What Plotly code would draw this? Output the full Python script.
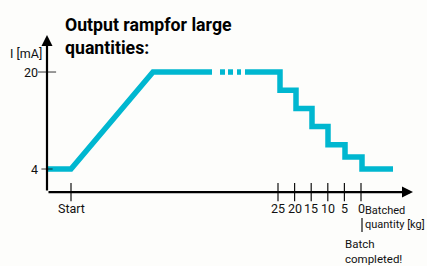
import plotly.graph_objects as go

# ---- data ----
# horizontal positions (arbitrary time-like units, origin at the y axis)
ramp_x = [0, 24, 106, 165]
ramp_y = [4, 4, 20, 20]
dash_x = [173, 178, None, 181, 186, None, 190, 194]
dash_y = [20, 20, None, 20, 20, None, 20, 20]
step_x = [198, 233, 249, 265, 281, 298, 315, 346]
step_y = [20, 17, 14, 11, 8, 6, 4, 4]

x_tick_pos = [24, 231, 247.6, 264.2, 280.8, 297.4, 314]
x_tick_text = ["Start", "25", "20", "15", "10", "5", "0"]
y_tick_vals = [20, 4]
y_tick_text = ["20", "4"]
title_lines = ["Output rampfor large", "quantities:"]
axis_y = 0.2
x_axis_end = 366
y_axis_end = 26.1

LINE_COLOR = "#00B7D0"
FONT = "Roboto, Liberation Sans, sans-serif"
FS = 12.5

fig = go.Figure()
for xs, ys in [(ramp_x, ramp_y), (dash_x, dash_y)]:
    fig.add_trace(go.Scatter(x=xs, y=ys, mode="lines",
                             line=dict(color=LINE_COLOR, width=5.5),
                             hoverinfo="skip", showlegend=False))
fig.add_trace(go.Scatter(x=step_x, y=step_y, mode="lines",
                         line=dict(color=LINE_COLOR, width=5.5, shape="hv"),
                         hoverinfo="skip", showlegend=False))

# tick marks
fig.add_trace(go.Scatter(x=x_tick_pos, y=[axis_y] * len(x_tick_pos), mode="markers",
                         marker=dict(symbol="line-ns", size=13,
                                     line=dict(color="#111", width=1.2)),
                         hoverinfo="skip", showlegend=False))
fig.add_trace(go.Scatter(x=[0, 0], y=y_tick_vals, mode="markers",
                         marker=dict(symbol="line-ew", size=[13, 8],
                                     line=dict(color="#111", width=1.2)),
                         hoverinfo="skip", showlegend=False))

annotations = []
# axes with arrowheads
annotations.append(dict(x=x_axis_end, y=axis_y, ax=0, ay=axis_y, xref="x", yref="y",
                        axref="x", ayref="y", text="", showarrow=True,
                        arrowhead=2, arrowsize=1, arrowwidth=2.2, arrowcolor="#000"))
annotations.append(dict(x=0, y=y_axis_end, ax=0, ay=axis_y, xref="x", yref="y",
                        axref="x", ayref="y", text="", showarrow=True,
                        arrowhead=2, arrowsize=1, arrowwidth=2.2, arrowcolor="#000"))
# tick labels
for xv, t in zip(x_tick_pos, x_tick_text):
    annotations.append(dict(x=xv, y=axis_y, yshift=-16, text=t, showarrow=False,
                            xanchor="center", yanchor="middle",
                            font=dict(family=FONT, size=FS, color="#111")))
for yv, t in zip(y_tick_vals, y_tick_text):
    annotations.append(dict(x=-7, y=yv, text=t, showarrow=False,
                            xanchor="right", yanchor="middle",
                            font=dict(family=FONT, size=FS, color="#111")))
annotations.append(dict(x=-3, y=23.1, text="I [mA]", showarrow=False,
                        xanchor="right", yanchor="middle",
                        font=dict(family=FONT, size=FS, color="#111")))
annotations.append(dict(x=316.5, y=axis_y, yshift=-25, text="Batched<br>quantity [kg]",
                        showarrow=False, xanchor="left", yanchor="middle", align="left",
                        borderpad=0,
                        font=dict(family=FONT, size=11, color="#111")))
annotations.append(dict(x=296, y=axis_y, yshift=-59, text="Batch<br>completed!",
                        showarrow=False, xanchor="left", yanchor="middle", align="left",
                        font=dict(family=FONT, size=11.5, color="#111")))
# title (two lines)
for i, line in enumerate(title_lines):
    annotations.append(dict(xref="paper", yref="paper", x=63 / 427,
                            y=1 - (25 + 23 * i) / 266,
                            text="<b>" + line + "</b>",
                            showarrow=False, xanchor="left", yanchor="middle", align="left",
                            font=dict(family=FONT, size=17.7, color="#000")))

shapes = [dict(type="line", xref="x", yref="paper", x0=315, x1=315,
               y0=1 - 218 / 266, y1=1 - 232 / 266, line=dict(color="#111", width=1.2))]

fig.update_layout(
    width=427, height=266, margin=dict(l=0, r=0, t=0, b=0),
    paper_bgcolor="#fdfdfb", plot_bgcolor="#fdfdfb",
    xaxis=dict(range=[-47, 380], visible=False, fixedrange=True),
    yaxis=dict(range=[-12, 31.88], visible=False, fixedrange=True),
    annotations=annotations, shapes=shapes, showlegend=False,
)
fig.write_html("out.html", config={"displayModeBar": False},
               post_script="document.body.style.margin='0';document.body.style.overflow='hidden';")
